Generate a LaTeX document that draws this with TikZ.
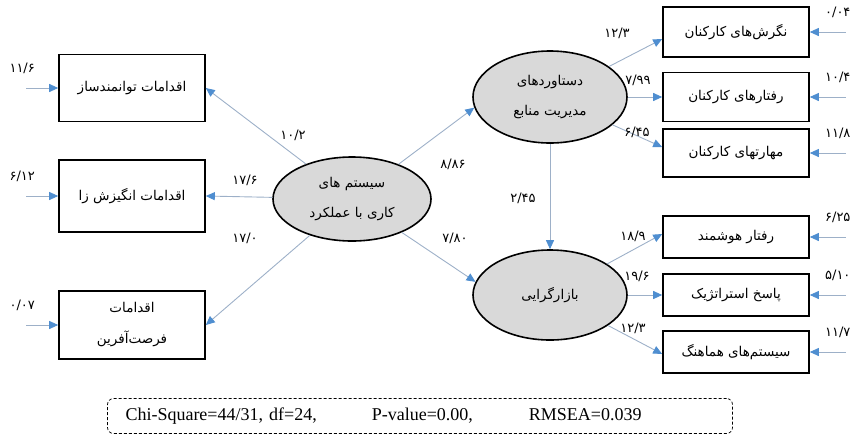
\documentclass[tikz,border=0pt]{standalone}
\usepackage{fontspec}
\setmainfont{Liberation Serif}
\newfontfamily\farsifont[Script=Arabic]{DejaVu Sans}
\TeXXeTstate=1
\usetikzlibrary{arrows.meta,shapes.geometric,positioning}
\definecolor{linec}{HTML}{9DB0C8}
\definecolor{tipc}{HTML}{4F8ED0}
\definecolor{latentfill}{HTML}{D9D9D9}
\newcommand{\fatext}[1]{\beginR#1\endR}
\tikzset{
    observed/.style={draw,line width=1.6pt,fill=white,
        minimum width=146pt,align=center,
        font=\farsifont\fontsize{13.5}{31}\selectfont},
    latent/.style={ellipse,draw,line width=1.6pt,fill=latentfill,
        minimum width=158pt,minimum height=84pt,inner sep=0pt,align=center,
        font=\farsifont\fontsize{13.5}{30}\selectfont},
    coef/.style={font=\farsifont\fontsize{13}{15}\selectfont,inner sep=1pt},
    link/.style={draw=linec,line width=0.9pt,
        -{Triangle[length=9pt,width=8pt,color=tipc]}},
    fitbox/.style={draw,line width=0.7pt,dash pattern=on 3pt off 2pt,
        rounded corners=6pt,minimum height=35pt,text width=589pt,
        inner xsep=18pt,align=left,font=\fontsize{18}{20}\selectfont},
}

\begin{document}
\begin{tikzpicture}[x=1pt,y=-1pt]
    \useasboundingbox (0,0) rectangle (862,445);
    \node[latent] (sys) at (352,199) {\fatext{سیستم های}\\\fatext{کاری با عملکرد}};
    \node[latent,minimum width=154pt,minimum height=92pt] (res) at (550,97) {\fatext{دستاوردهای}\\\fatext{مدیریت منابع}};
    \node[latent,minimum width=154pt,minimum height=90pt] (mkt) at (550,295) {\fatext{بازارگرایی}};

    \node[observed,minimum height=67pt] (L1) at (132,88) {\fatext{اقدامات توانمندساز}};
    \node[observed,minimum height=72pt] (L2) at (132,196) {\fatext{اقدامات انگیزش زا}};
    \node[observed,minimum height=68pt] (L3) at (132,325) {\fatext{اقدامات}\\\fatext{فرصت^^^^200cآفرین}};
    \foreach \name/\y/\h/\txt in {R1/32/50/{نگرش^^^^200cهای کارکنان},R2/97/49/{رفتارهای کارکنان},
        R3/153/48/{مهارتهای کارکنان},R4/237/42/{رفتار هوشمند},
        R5/295/42/{پاسخ استراتژیک},R6/352/42/{سیستم^^^^200cهای هماهنگ}}
    \node[observed,minimum height=\h pt] (\name) at (736,\y) {\fatext{\txt}};

    \draw[link] (sys) -- (L1.east);
    \draw[link] (sys) -- (L2.east);
    \draw[link] (sys) -- (L3.east);
    \draw[link] (sys) -- (res.188);
    \draw[link] (sys) -- (mkt.170);
    \draw[link] (res) -- (mkt);
    \draw[link] (res) -- ([yshift=-7pt]R1.west);
    \draw[link] (res) -- (R2.west);
    \draw[link] (res) -- ([yshift=6pt]R3.west);
    \draw[link] (mkt) -- ([yshift=3pt]R4.west);
    \draw[link] (mkt) -- (R5.west);
    \draw[link] (mkt) -- ([yshift=-2pt]R6.west);

    \foreach \name/\pos/\val in {c1/{293,135}/{۱۰/۲},c2/{245,180}/{۱۷/۶},c3/{245,238}/{۱۷/۰},
        c4/{453,164}/{۸/۸۶},c5/{455,238}/{۷/۸۰},c6/{523,198}/{۲/۴۵},
        c7/{617,33}/{۱۲/۳},c8/{638,80}/{۷/۹۹},c9/{637,132}/{۶/۴۵},
        c10/{633,236}/{۱۸/۹},c11/{637,276}/{۱۹/۶},c12/{633,328}/{۱۲/۳}}
    \node[coef] (\name) at (\pos) {\val};

    \foreach \name/\val in {L1/{۱۱/۶},L2/{۶/۱۲},L3/{۰/۰۷}}{
        \coordinate (e\name) at ([xshift=-32pt]\name.west);
        \draw[link] (e\name) -- (\name.west);
        \node[coef,above=13pt of e\name,xshift=-4pt] (t\name) {\val};
    }
    \foreach \name/\val in {R1/{۰/۰۴},R2/{۱۰/۴},R3/{۱۱/۸},R4/{۶/۲۵},R5/{۵/۱۰},R6/{۱۱/۷}}{
        \coordinate (e\name) at ([xshift=36pt]\name.east);
        \draw[link] (e\name) -- (\name.east);
        \node[coef,above=13pt of e\name,xshift=-8pt] (t\name) {\val};
    }

    \node[fitbox] (fitidx) at (420,416) {Chi-Square=44/31, df=24,\hspace{55pt}P-value=0.00,\hspace{56pt}RMSEA=0.039};
\end{tikzpicture}
\end{document}
